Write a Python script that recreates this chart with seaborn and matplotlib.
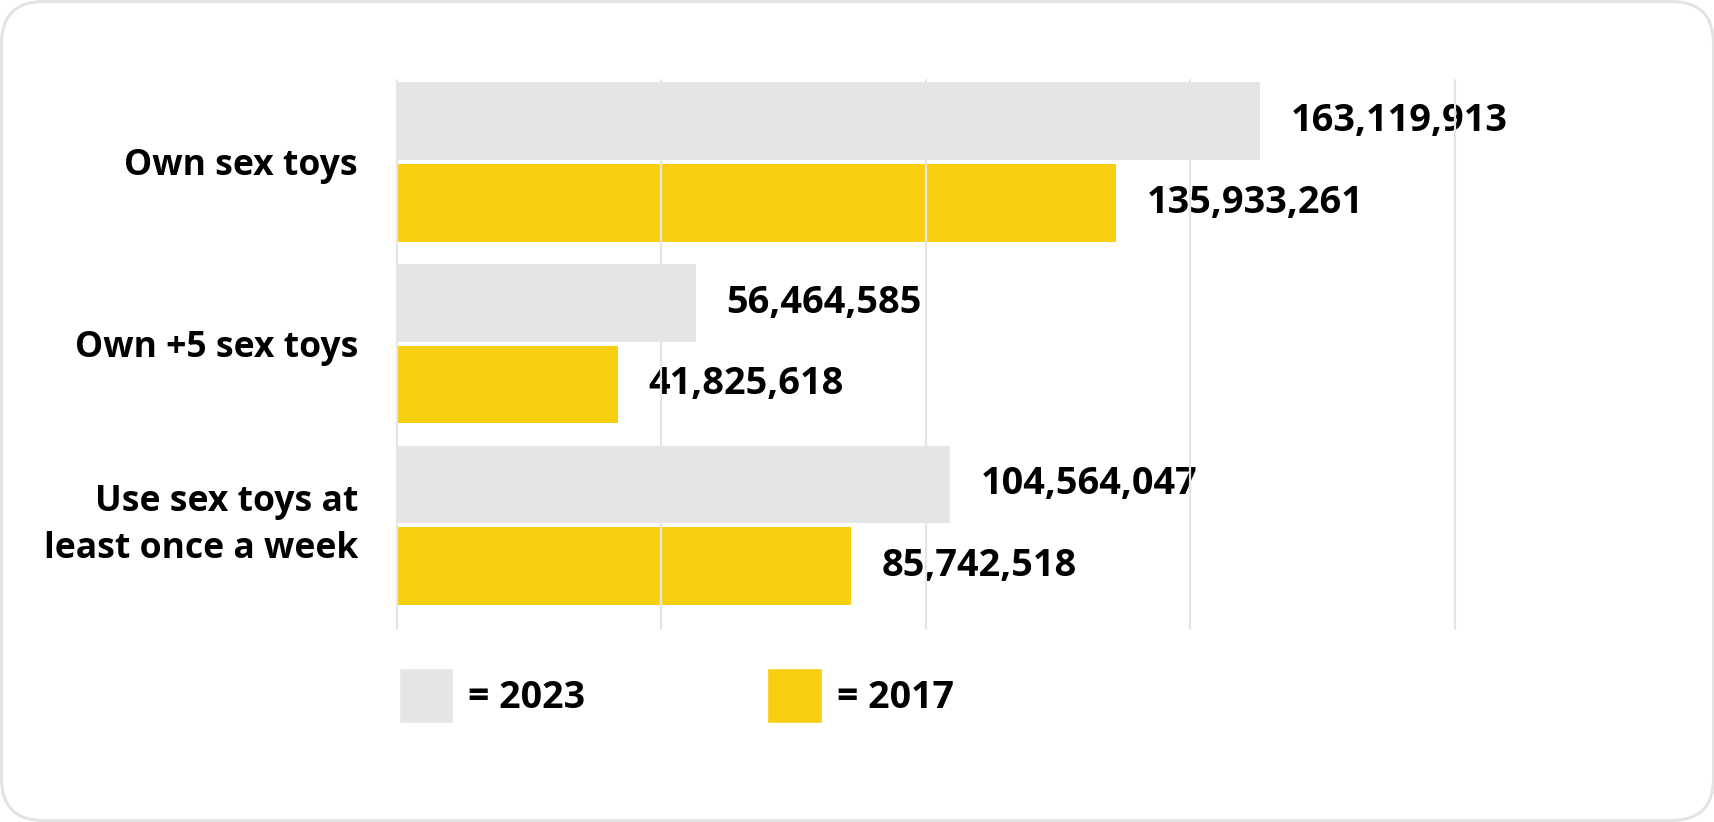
import matplotlib
matplotlib.use("Agg")
import matplotlib.pyplot as plt
import seaborn as sns
import pandas as pd
from matplotlib.patches import Patch, FancyBboxPatch
from matplotlib.transforms import IdentityTransform

# Survey figures: number of people, by year
categories = ["Own sex toys", "Own +5 sex toys", "Use sex toys at\nleast once a week"]
years = ["2023", "2017"]
values_2023 = [163119913, 56464585, 104564047]
values_2017 = [135933261, 41825618, 85742518]
x_ticks = [0, 50e6, 100e6, 150e6, 200e6]

GRAY = "#E5E5E5"
YELLOW = "#F8CE11"
FONT = "Open Sans"
FS_VALUE = 27.3
FS_CAT = 25.6
FS_LEGEND = 27.0

df = pd.DataFrame({
    "category": categories * 2,
    "year": [years[0]] * len(categories) + [years[1]] * len(categories),
    "value": values_2023 + values_2017,
})

sns.set_theme(style="white")
plt.rcParams["font.family"] = [FONT, "DejaVu Sans"]
plt.rcParams["font.weight"] = "bold"
plt.rcParams["text.color"] = "black"

W, H = 1715, 822
fig = plt.figure(figsize=(W / 100, H / 100), dpi=100, facecolor="white")
ax = fig.add_axes([397 / W, 193 / H, 1058 / W, 549 / H])

sns.barplot(
    data=df, y="category", x="value", hue="year",
    order=categories, hue_order=years, palette=[GRAY, YELLOW],
    orient="h", width=0.9, gap=0.05, saturation=1, linewidth=0,
    errorbar=None, legend=False, ax=ax,
)

# value labels to the right of each bar
for container, vals in zip(ax.containers, [values_2023, values_2017]):
    for bar, v in zip(container, vals):
        yc = bar.get_y() + bar.get_height() / 2
        ax.annotate(f"{v:,}", xy=(v, yc), xytext=(22, 0), textcoords="offset points",
                    ha="left", va="center", fontsize=FS_VALUE, fontweight="bold",
                    color="black", zorder=2, annotation_clip=False)

ax.set_xlim(0, 200e6)
ax.set_ylim(2.57, -0.45)
ax.set_xticks(x_ticks)
ax.tick_params(axis="x", labelbottom=False, length=0)
ax.tick_params(axis="y", length=0, pad=28, labelsize=FS_CAT, labelcolor="black")
ax.set_xlabel("")
ax.set_ylabel("")
for s in ax.spines.values():
    s.set_visible(False)

# gridlines sit on top of bars and labels
ax.set_axisbelow(False)
ax.grid(axis="x", color=GRAY, linewidth=1.6)
ax.grid(axis="y", visible=False)
for line in ax.get_xgridlines():
    line.set_clip_on(False)
for lbl in ax.get_yticklabels():
    lbl.set_fontweight("bold")
    lbl.set_linespacing(1.38)
    if "\n" in lbl.get_text():
        lbl.set_verticalalignment("center")

fig.legend(
    handles=[Patch(facecolor=GRAY, label="= " + years[0]),
             Patch(facecolor=YELLOW, label="= " + years[1])],
    loc="upper left", bbox_to_anchor=(399 / W, 1 - 668 / H), bbox_transform=fig.transFigure,
    ncol=2, frameon=False, prop={"size": FS_LEGEND, "weight": "bold"}, labelcolor="black",
    handlelength=1.45, handleheight=1.88, handletextpad=0.4, columnspacing=4.85,
    borderpad=0, borderaxespad=0,
)

# rounded card outline
fig.add_artist(FancyBboxPatch(
    (1.5, 1.5), W - 3, H - 3, boxstyle="round,pad=0,rounding_size=42",
    transform=IdentityTransform(), fill=False, edgecolor="#E3E3E3", linewidth=2.2,
))

fig.savefig("out.png", dpi=100, facecolor="white")
